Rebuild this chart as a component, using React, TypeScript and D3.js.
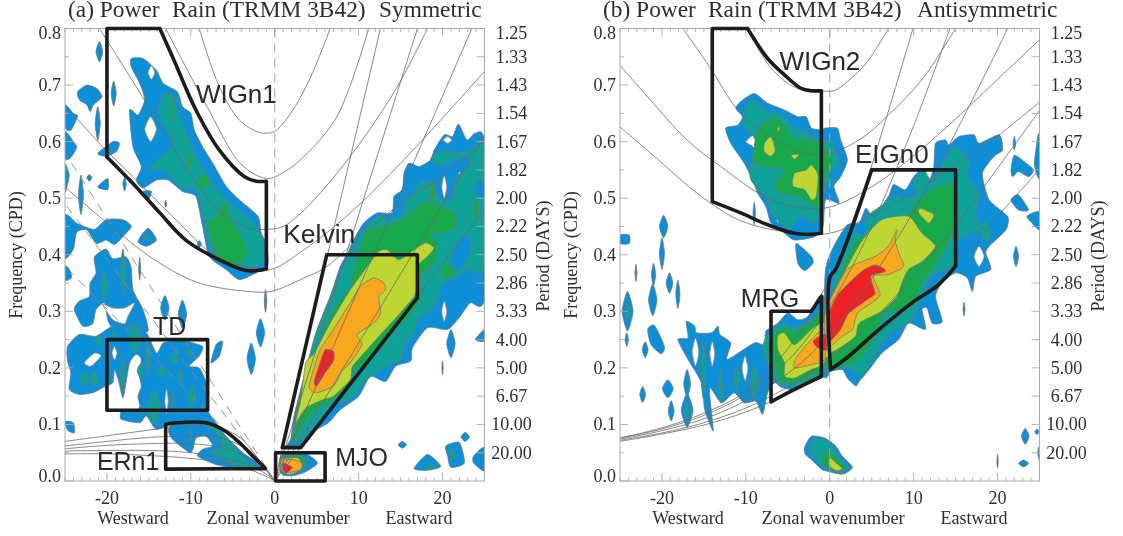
import React from "react";
import * as d3 from "d3";

type P = [number, number];
type Blob = [number, number, number, number, number];

const xTickLabels = [-20, -10, 0, 10, 20];
const freqTicks = [0, 0.1, 0.2, 0.3, 0.4, 0.5, 0.6, 0.7, 0.8];
const freqMinor = [0.05, 0.15, 0.25, 0.35, 0.45, 0.55, 0.65, 0.75];
const periodLabels = ["1.25", "1.33", "1.43", "1.54", "1.67", "1.82", "2.00", "2.22", "2.50", "2.86", "3.33", "4.00", "5.00", "6.67", "10.00", "20.00"];
const periodFreqs = [0.8, 0.75, 0.7, 0.65, 0.6, 0.55, 0.5, 0.45, 0.4, 0.35, 0.3, 0.25, 0.2, 0.15, 0.1, 0.05];

// ---------- Panel (a) contours ----------
const aWigBlue: P[] = [[-17.1,.747],[-15.7,.747],[-14.1,.726],[-13.3,.703],[-11.6,.688],[-11,.662],[-10,.65],[-9.6,.621],[-8.6,.591],[-7.4,.562],[-5.8,.521],[-4.2,.497],[-2,.468],[-1.6,.438],[-1,.42],[-.8,.385],[-2,.37],[-4.2,.356],[-5.8,.374],[-7.8,.397],[-8.6,.45],[-9.4,.503],[-11,.512],[-12.7,.532],[-14.1,.532],[-15.7,.518],[-16.5,.532],[-15.9,.556],[-16.9,.591],[-17.3,.656],[-16.3,.647],[-15.5,.674],[-16.1,.703],[-17.1,.732]];
const aWigTeal: P[] = [[-13.3,.682],[-12.1,.682],[-11.6,.65],[-10.8,.626],[-9.4,.574],[-8.2,.544],[-6.2,.503],[-3.4,.468],[-2.2,.45],[-1.4,.426],[-1.2,.391],[-2.2,.379],[-4.2,.379],[-7,.391],[-8,.426],[-8.6,.474],[-9.4,.515],[-11.4,.521],[-13,.55],[-15,.553],[-12.6,.585],[-12.2,.603],[-13.8,.65]];
const aWigGreen: P[] = [[-6,.497],[-5.4,.468],[-4.2,.438],[-3.2,.403],[-5,.379],[-7,.403],[-8,.456],[-6.8,.468]];
const aLeft1: P[] = [[-23.5,.688],[-22.4,.7],[-21.2,.694],[-20.6,.679],[-21.6,.665],[-22,.653],[-22.4,.665],[-23.3,.674]];
const aLeft2: P[] = [[-25,.665],[-24,.65],[-23.5,.645],[-24.3,.62],[-25,.625]];
const aLeft3: P[] = [[-25,.618],[-24,.6],[-23.6,.59],[-24.3,.572],[-25,.57]];
const aLeft4: P[] = [[-21.1,.579],[-19.3,.6],[-18.5,.597],[-18.9,.582],[-20.1,.574]];
const aLeft5: P[] = [[-25,.56],[-24.5,.54],[-25,.51]];
const aLeft6: P[] = [[-21.1,.52],[-19.9,.535],[-19.9,.515]];
const aLeft7: P[] = [[-15.7,.512],[-14.7,.512],[-15.1,.497]];
const aLeft8: P[] = [[-16.3,.424],[-15.1,.447],[-14.1,.426],[-15.3,.415]];
const aBand: P[] = [[-25,.47],[-23.5,.455],[-21.5,.445],[-20.1,.462],[-18.1,.462],[-17.1,.45],[-18.1,.432],[-19.1,.418],[-20.1,.426],[-21.3,.42],[-22.4,.444],[-23.6,.44],[-24,.41],[-25,.395]];
const aUpper: P[] = [[-23.9,.303],[-23.3,.318],[-22.1,.326],[-22,.35],[-21.3,.368],[-21.5,.396],[-20.1,.41],[-19.3,.393],[-17.7,.396],[-17.1,.376],[-16.9,.338],[-15.7,.303],[-15.1,.265],[-17.1,.265],[-19.3,.271],[-19.9,.285],[-20.3,.315],[-21.3,.303],[-21.7,.278],[-22.9,.274]];
const aUpperHole: P[] = [[-20.5,.312],[-19.3,.306],[-17.9,.306],[-16.7,.315],[-17.5,.291],[-17.9,.278],[-19.3,.285]];
const aTd: P[] = [[-24.7,.238],[-23.3,.259],[-21.3,.256],[-19.3,.274],[-17.1,.271],[-15.3,.262],[-14.1,.226],[-13.3,.244],[-11.8,.247],[-10.6,.247],[-8.6,.238],[-9,.221],[-10.2,.203],[-9,.2],[-8.2,.174],[-8,.126],[-7,.103],[-5.8,.079],[-3.8,.05],[-1.4,.024],[-4.2,.021],[-7,.029],[-9.2,.044],[-8.6,.056],[-7.4,.062],[-8.2,.079],[-9.4,.076],[-10,.05],[-12.2,.074],[-12.7,.091],[-12.2,.103],[-14.1,.091],[-15.3,.115],[-16.1,.103],[-18.3,.109],[-18.2,.124],[-16.1,.126],[-16.3,.15],[-15.9,.168],[-16.2,.191],[-15.9,.215],[-16.5,.224],[-17.3,.209],[-17.7,.176],[-18.1,.147],[-18.6,.176],[-19.1,.197],[-19.3,.174],[-20.5,.165],[-21.7,.156],[-23.3,.153],[-24.5,.162],[-24.3,.191],[-24.7,.212]];
const aTdHole: P[] = [[-22.7,.209],[-21.5,.226],[-20.7,.221],[-21.9,.203]];
const aEdge1: P[] = [[-25,.38],[-24.5,.375],[-24.2,.36],[-25,.355]];
const aEdge2: P[] = [[-25,.105],[-24,.103],[-23.9,.085],[-24.7,.09]];
const aNear: P[] = [[-7.6,.209],[-7,.241],[-6.2,.247],[-6.6,.221]];
const aErTeal: P[] = [[-8.6,.1],[-7.4,.097],[-6.2,.085],[-5,.062],[-3.2,.032],[-2.2,.024],[-4.2,.026],[-6.6,.041],[-7.6,.053],[-6.2,.059],[-6.6,.074],[-7.4,.091]];
const aKelvinBlue: P[] = [[25,.597],[23.9,.615],[22.9,.603],[21.9,.631],[21.2,.609],[20.2,.612],[19,.585],[18.6,.568],[17.2,.556],[16,.562],[15.4,.544],[15.2,.515],[14.2,.503],[14,.474],[12.2,.474],[10.6,.456],[9.4,.426],[8.6,.4],[7.8,.379],[6.6,.326],[4.9,.262],[3.5,.185],[2.3,.115],[1.9,.074],[1.3,.059],[3.1,.059],[4.7,.088],[6.4,.103],[7.8,.126],[10,.15],[11.4,.185],[13.2,.176],[14.4,.203],[16.2,.212],[16.4,.235],[18.2,.271],[20.6,.268],[22.1,.291],[23.3,.315],[25,.324]];
const aKelvinTeal: P[] = [[25,.594],[22.9,.581],[19.4,.582],[18.6,.568],[19.8,.559],[22.7,.574],[23.3,.556],[21.7,.538],[21,.497],[19.4,.503],[19,.526],[17.4,.529],[16.6,.509],[15.4,.497],[15.4,.474],[13.8,.462],[12.6,.468],[11.2,.456],[10,.429],[8.8,.397],[7,.338],[5.4,.279],[3.9,.203],[2.7,.132],[2.1,.079],[2.1,.065],[3.3,.071],[4.7,.097],[5.4,.103],[7.4,.138],[9,.144],[10.6,.174],[12.6,.197],[15,.215],[15.4,.238],[16.6,.262],[17,.285],[18.6,.303],[19.4,.321],[20,.35],[21.7,.362],[22.9,.374],[25,.379]];
const aKelvinPatch1: P[] = [[25,.53],[24,.53],[23.9,.51],[24.6,.5],[25,.505]];
const aKelvinPatch2: P[] = [[21.2,.403],[22.5,.438],[23.5,.415],[22.2,.374],[21,.379]];
const aKelvinGreen: P[] = [[12.6,.45],[15.2,.462],[18,.494],[19.8,.485],[21.4,.474],[21.6,.45],[20,.438],[18.6,.438],[19.4,.415],[19,.385],[17.4,.362],[17.4,.324],[16,.291],[14.2,.268],[13.2,.244],[11.4,.215],[9.4,.197],[9,.174],[7,.144],[5.4,.132],[3.5,.103],[2.3,.074],[2.9,.144],[4.3,.203],[7,.303],[9.2,.344],[9.2,.362],[10.8,.438]];
const aKelvinYellow: P[] = [[12.4,.406],[13.4,.409],[14.8,.391],[16.6,.409],[18,.421],[19,.412],[18.2,.397],[17,.379],[17,.35],[16.6,.326],[14.6,.291],[13,.265],[9.8,.212],[9.2,.2],[9,.179],[7,.15],[5.8,.144],[3.7,.129],[2.5,.103],[3.1,.144],[3.7,.209],[4.7,.226],[6.6,.279],[9,.338],[11,.379]];
const aKelvinOrange: P[] = [[11.8,.359],[13,.35],[13.2,.338],[12.4,.326],[12.6,.297],[11.8,.279],[9.8,.259],[10.4,.241],[9,.209],[8,.194],[7,.168],[5,.156],[4.1,.165],[4.5,.191],[5.4,.232],[7,.268],[9,.315],[10.2,.344]];
const aKelvinRed: P[] = [[6,.232],[7,.229],[7,.212],[6,.191],[5,.168],[4.7,.176],[5.4,.209]];
const aMjoBlue: P[] = [[.7,.044],[1.9,.05],[3.5,.05],[5.1,.032],[3.5,.015],[1.9,.009],[.7,.015]];
const aMjoTeal: P[] = [[.7,.041],[3,.047],[4,.033],[3,.018],[1,.01]];
const aMjoGreen: P[] = [[.7,.038],[2.9,.044],[3.6,.032],[2.9,.018],[1.3,.012]];
const aMjoYellow: P[] = [[.7,.038],[2.7,.041],[3.3,.026],[2.5,.015],[1.5,.012],[.7,.021]];
const aMjoOrange: P[] = [[.7,.035],[2.1,.038],[3.2,.032],[3.1,.02],[1.5,.015],[.9,.021]];
const aMjoRed: P[] = [[1,.032],[2.1,.024],[1.3,.014],[.9,.026]];
const aEast1: P[] = [[16.6,.022],[18.2,.047],[19.8,.026],[18.2,.019]];
const aEast1Teal: P[] = [[18,.026],[18.5,.031],[19.2,.024],[18.4,.021]];
const aEast2: P[] = [[20.4,.062],[22,.068],[22.6,.032],[21,.024],[20.6,.044]];
const aEast3: P[] = [[23.7,.044],[24.9,.059],[25,.018],[23.7,.032]];
const aEast4: P[] = [[23.9,.25],[25,.268],[25,.247]];

const aBlobs: Blob[] = [
  [1,-20.9,.759,.4,.018],[1,-19.2,.685,.3,.022],[1,-21.1,.632,.3,.03],[1,-23.1,.506,.3,.035],[1,-22.1,.536,.3,.006],[1,-17.9,.525,.2,.012],[1,-9,.419,.25,.006],[1,-13,.49,.12,.006],
  [1,-13.1,.306,.5,.022],[1,-11,.295,.5,.025],[1,-1.1,.318,.15,.02],[1,-1.7,.262,.5,.025],[1,-2.8,.216,.5,.028],[1,-16.1,.375,.12,.02],
  [1,15.2,.064,.5,.006],[1,22.7,.078,.5,.008],[1,21,.243,.5,.025],[1,20,.2,.08,.012],
  [0,-19.1,.226,.3,.012],[0,-12.9,.141,.2,.022],[0,-14.8,.622,.7,.022],[0,-14.7,.722,.4,.012],[0,20.2,.52,.3,.02],[0,20.6,.603,.5,.006],[0,20.2,.3,.3,.018],[0,22,.544,.12,.003],
  [2,-14.4,.13,.8,.03],[2,-22.7,.18,.6,.012],[2,-21.5,.18,.5,.012],[2,-18.1,.187,.3,.03],[2,-15.1,.217,.25,.03],[2,-16,.195,.4,.012],[2,-13.5,.193,.7,.008],[2,-11.9,.217,.45,.012],[2,-10.2,.228,.3,.008],[2,-11.2,.185,.25,.012],[2,-9.9,.15,.5,.018],[2,-16.7,.253,.7,.025],[2,-21,.248,.4,.01],[2,-19.1,.258,.2,.01],[2,-20.3,.344,.4,.025],[2,-18.1,.37,.3,.04],[2,-12.1,.141,.12,.018],[2,-16,.125,.3,.008],[2,-10,.08,.1,.012],[2,-15.3,.43,.3,.006],[2,21.2,.047,.3,.012],
  [3,-8.5,.53,.7,.012],[3,-10.2,.566,.3,.012],[3,-12.2,.656,.15,.022],[3,18.8,.509,.3,.022],[3,24,.479,.3,.02],[3,20.6,.37,.9,.015],
];

// ---------- Panel (b) contours ----------
const bWigBlue: P[] = [[-10.6,.671],[-9,.685],[-7.4,.668],[-5.4,.656],[-3.8,.644],[-2.8,.644],[-2.2,.624],[-1,.621],[-.5,.624],[.9,.624],[1.3,.603],[2.1,.568],[1.3,.538],[.5,.521],[1.1,.491],[-.5,.497],[-.8,.45],[-1.8,.432],[-4.2,.426],[-5.4,.438],[-7,.456],[-7.6,.485],[-8.6,.509],[-9.2,.532],[-10.2,.562],[-11.8,.597],[-12.4,.624],[-11,.629],[-10.4,.644],[-11.2,.659]];
const bWigHole: P[] = [[-10,.6],[-9,.612],[-8.8,.588],[-9.4,.594]];
const bWigTail: P[] = [[-4,.42],[-2.2,.397],[-2,.385],[-3,.372],[-3.8,.385]];
const bWigTeal: P[] = [[-10.2,.656],[-9.2,.674],[-7.8,.656],[-6,.647],[-5.4,.644],[-4.8,.632],[-3.8,.621],[-2.6,.615],[-1.4,.603],[.2,.6],[.3,.597],[1.1,.562],[.1,.544],[.3,.532],[-.5,.521],[-1,.485],[-1.8,.456],[-3.4,.468],[-5,.444],[-5.8,.456],[-7,.474],[-7.4,.497],[-9.4,.532],[-9.4,.562],[-8.2,.585],[-9.4,.615],[-10.2,.626]];
const bWigGreen: P[] = [[-8.6,.618],[-6.6,.644],[-5.2,.624],[-4.2,.606],[-1.4,.6],[.2,.574],[-.1,.55],[-.5,.544],[-1,.497],[-1.8,.485],[-3.8,.503],[-5.8,.509],[-6.6,.521],[-5.4,.55],[-8.6,.559],[-9.2,.568],[-9,.591]];
const bWigY1: P[] = [[-7.8,.597],[-7,.609],[-6.5,.585],[-7,.574],[-7.8,.582]];
const bWigY2: P[] = [[-4.6,.576],[-3.6,.578],[-4.2,.569]];
const bWigY3: P[] = [[-4.2,.544],[-2.8,.55],[-2.2,.559],[-1.4,.541],[-1.6,.503],[-2.2,.497],[-3,.515],[-4.4,.521]];
const bSquare: P[] = [[-25,.435],[-23.9,.435],[-23.9,.42],[-25,.42]];
const bLeft1: P[] = [[-21.7,.268],[-20.9,.275],[-19.7,.238],[-20.1,.225],[-21.3,.241]];
const bMrgBlue: P[] = [[-17.1,.282],[-16.1,.274],[-15.9,.262],[-14.1,.262],[-13.3,.274],[-13.1,.259],[-11.8,.244],[-12.2,.215],[-9,.244],[-7.8,.241],[-7.6,.265],[-6.2,.279],[-5,.297],[-3.8,.285],[-2.6,.291],[-1.4,.324],[-.8,.329],[-.4,.3],[-.4,.19],[-1,.182],[-4.2,.162],[-5.8,.166],[-6.6,.174],[-7.4,.156],[-8,.118],[-8.8,.141],[-10.2,.138],[-11.4,.156],[-12.9,.138],[-14.3,.165],[-14.1,.121],[-13.9,.088],[-14.9,.126],[-15.3,.174],[-16.9,.215],[-18.1,.25],[-16.9,.253]];
const bMrgTeal: P[] = [[-7,.268],[-5.4,.279],[-4.2,.271],[-2.2,.285],[-1.4,.297],[-.8,.315],[-.4,.3],[-1.4,.185],[-4.2,.168],[-6.2,.174],[-7.4,.209],[-8,.238]];
const bMrgGreen: P[] = [[-6.8,.256],[-5.4,.271],[-4.2,.265],[-2.2,.279],[-1,.297],[-.6,.203],[-2.2,.185],[-4.2,.174],[-5.8,.176],[-6.8,.209],[-7.4,.238]];
const bMrgYellow: P[] = [[-6.2,.256],[-5.4,.262],[-4.2,.241],[-2.2,.268],[-.6,.279],[-.6,.209],[-2.2,.197],[-4.2,.182],[-5.4,.185],[-5.4,.209],[-6.2,.232]];
const bMrgOrange: P[] = [[-4,.218],[-2.2,.25],[-.6,.268],[-.6,.215],[-2.2,.206],[-4.2,.2]];
const bMrgRed: P[] = [[-2,.247],[-1.2,.256],[-.4,.259],[-.4,.232],[-1.4,.235]];
const bEigBlue: P[] = [[-.5,.374],[1.9,.45],[3.5,.456],[4.3,.482],[5.2,.468],[7,.503],[7.6,.524],[9,.515],[10,.538],[11,.55],[11.8,.529],[12.4,.556],[12.6,.597],[13.8,.603],[14.2,.594],[15.4,.609],[17.2,.612],[17.8,.597],[20.2,.612],[20.6,.585],[19.6,.574],[18.2,.544],[19,.497],[21.2,.468],[21,.444],[19,.415],[18.6,.403],[19.2,.374],[17.4,.362],[17,.335],[16.4,.359],[15,.368],[13.4,.35],[12.6,.326],[13.4,.282],[12.2,.279],[11.6,.306],[11,.303],[11.4,.268],[9.4,.279],[8.2,.25],[6.2,.226],[4.7,.197],[3.5,.176],[3.1,.168],[2.1,.182],[1.5,.197],[.1,.194],[-.5,.19]];
const bEigTeal: P[] = [[.7,.374],[2.9,.438],[4.1,.432],[4.5,.468],[6.6,.491],[7.6,.503],[10.2,.503],[10,.529],[11.2,.55],[12.2,.532],[14.2,.579],[15,.591],[16.6,.568],[16.4,.538],[17.8,.509],[17.4,.474],[18.2,.444],[16.6,.438],[15,.421],[14.8,.379],[12.6,.368],[11.4,.344],[10,.288],[9,.276],[7.4,.265],[6.2,.241],[3.9,.188],[2.3,.2],[.1,.197],[-.5,.2]];
const bEigGreen: P[] = [[1.5,.374],[3.3,.426],[5.4,.444],[9,.468],[10.6,.497],[13.4,.524],[14.8,.521],[15.2,.485],[14.8,.444],[13.2,.397],[12.2,.374],[11,.35],[9.8,.309],[6.6,.297],[5.4,.256],[3.9,.221],[2.3,.206],[.1,.203],[-.5,.205]];
const bEigYellow: P[] = [[1.9,.374],[3.9,.426],[6.2,.462],[9.4,.468],[11,.438],[12.6,.415],[11,.388],[9.4,.374],[8.6,.35],[8,.326],[6.2,.3],[3.5,.279],[3.1,.256],[1.5,.238],[.1,.226],[-.5,.22],[-.5,.3]];
const bEigPatch: P[] = [[10.6,.474],[10.8,.482],[12.4,.471],[11.8,.456]];
const bEigOrange: P[] = [[2.1,.374],[5.4,.397],[7,.415],[8,.444],[7.8,.424],[8.4,.397],[8.8,.379],[7,.365],[5.2,.362],[6,.329],[4.7,.312],[3.3,.297],[2.7,.268],[1.5,.256],[.1,.238],[-.5,.235],[-.5,.3]];
const bEigRed: P[] = [[-.3,.29],[1,.33],[2.7,.356],[4.1,.374],[5.4,.382],[6.4,.376],[6.6,.37],[4.9,.362],[5.4,.332],[4.5,.321],[2.3,.297],[1.3,.268],[.1,.247],[-.3,.24]];
const bLobe1: P[] = [[21.6,.497],[22.5,.506],[23.7,.479],[22.5,.479]];
const bLobe2: P[] = [[23.5,.468],[24.9,.476],[25,.444],[24.1,.456]];
const bLobe3: P[] = [[21.6,.55],[22,.576],[23.4,.562],[24.3,.55],[23.7,.538],[22.5,.547],[21.8,.538]];
const bLobe4: P[] = [[24.9,.615],[25,.535],[24.4,.56]];
const bEdgeE: P[] = [[24.9,.06],[25,.035],[24.8,.048]];
const bMjoBlue: P[] = [[-3,.059],[-2.2,.079],[-.6,.076],[.7,.062],[1.5,.044],[2.7,.024],[1.5,.012],[-.5,.018],[-1,.021],[-2.2,.038],[-2.9,.047]];
const bMjoTeal: P[] = [[-2.4,.065],[-1.5,.074],[-.5,.072],[.5,.058],[1.3,.04],[2.3,.023],[1.3,.014],[-.5,.022],[-1.5,.035],[-2.2,.05]];
const bMjoGreen: P[] = [[-.5,.053],[.2,.05],[1,.035],[1.9,.023],[1,.016],[-.3,.024],[-1,.035]];
const bMjoYellow: P[] = [[0,.042],[.6,.034],[1.5,.022],[.8,.018],[-.1,.028]];

const bBlobs: Blob[] = [
  [1,-9,.473,.15,.02],[1,-19.8,.45,.5,.02],[1,-20,.402,.3,.028],[1,-23.1,.368,.12,.015],[1,-21,.365,.25,.02],[1,-19.1,.35,.4,.018],[1,-18.1,.33,.25,.025],[1,-21.1,.32,.5,.028],[1,-24.1,.3,.65,.035],[1,-24.2,.25,.2,.012],[1,-22,.232,.35,.014],[1,-22.3,.153,.35,.014],[1,-19.3,.163,.65,.016],[1,-17,.172,.4,.025],[1,-18.9,.124,.35,.018],[1,-17,.125,.7,.03],
  [1,22.2,.397,.3,.018],[1,22,.597,.15,.012],[1,16,.304,.12,.012],[1,23.3,.079,.45,.014],[1,24.7,.087,.25,.005],[1,23.1,.031,.6,.006],[1,20,.035,.08,.012],
  [0,-16,.228,.4,.025],[0,-14,.225,.3,.022],[0,-10.1,.199,.35,.022],[0,-6.2,.476,.25,.02],[0,17.8,.397,.6,.018],
  [2,-24.1,.3,.25,.015],[2,-17,.125,.3,.015],[2,-15.1,.197,.3,.05],[2,-13,.168,.25,.03],[2,-11.1,.182,.35,.022],[2,-9,.174,.5,.03],[2,18.6,.44,.6,.018],
  [5,-6.1,.622,.15,.005],
];

// ---------- dispersion curves ----------
const aWig90: P[] = [[-9,.8],[-6.6,.697],[-4.2,.638],[-2,.617],[-1,.615],[0,.618],[1.9,.65],[4.3,.715],[6.6,.8]];
const aWig50: P[] = [[-13,.8],[-8,.66],[-4,.56],[-1,.535],[1,.545],[3.5,.574],[7.4,.644],[11.2,.8]];
const aWig25: P[] = [[-20.9,.8],[-18.5,.744],[-15.3,.668],[-12.2,.591],[-9,.52],[-6,.47],[-3,.447],[-1,.445],[1,.45],[3.5,.479],[9,.574],[14.6,.697],[18.2,.8]];
const aWig12: P[] = [[-25,.665],[-20.9,.597],[-16.9,.538],[-12.2,.468],[-7,.397],[-3.4,.379],[-.5,.374],[3.5,.409],[9,.474],[15.4,.568],[25,.724]];
const aWig8: P[] = [[-25,.52],[-19,.444],[-13.7,.385],[-9,.35],[-3,.335],[-.5,.335],[3.5,.359],[6.2,.379],[10,.43],[15,.49],[20,.54],[25,.6]];
const aKelvinSlopes: P[] = [[12.6,.8],[17,.8],[23.5,.8],[25,.61],[25,.48]];
const aEr1: P[] = [[-25,.07],[-20,.08],[-15,.09],[-10,.1],[-7,.097],[-4,.075],[-2,.04],[-.5,.012],[0,0]];
const aEr2: P[] = [[-25,.062],[-20,.07],[-15,.077],[-10,.08],[-7,.078],[-4,.062],[-2,.036],[-.5,.01],[0,0]];
const aEr3: P[] = [[-25,.057],[-20,.063],[-15,.066],[-10,.066],[-6,.058],[-3,.04],[-1,.018],[0,0]];
const aEr4: P[] = [[-25,.053],[-20,.054],[-15,.054],[-10,.05],[-6,.04],[-3,.028],[-1,.012],[0,0]];
const aEr5: P[] = [[-25,.048],[-20,.048],[-15,.045],[-10,.04],[-6,.032],[-3,.02],[-1,.008],[0,0]];
const aDashEnds: P[] = [[-25,.38],[-25,.49],[-25,.58]];

const bWig50: P[] = [[-9.8,.8],[-7,.73],[-4,.695],[-1,.69],[.5,.69],[2,.705],[4.3,.738],[7,.8]];
const bWig25: P[] = [[-17.5,.8],[-14.3,.732],[-10.6,.65],[-5,.591],[-1,.576],[3.5,.603],[7,.647],[11,.71],[15,.8]];
const bWig12: P[] = [[-25,.735],[-21.7,.679],[-17,.603],[-13,.556],[-7,.497],[-2.6,.482],[.2,.485],[5,.52],[10,.575],[15,.64],[20,.71],[25,.78]];
const bWig8: P[] = [[-25,.626],[-20.9,.574],[-15.3,.503],[-10.6,.46],[-5,.44],[0,.438],[5,.47],[10,.51],[15,.56],[20,.61],[25,.67]];
const bMrg90: P[] = [[-25,.076],[-20,.094],[-15,.12],[-10,.158],[-5,.234],[-2.5,.289],[0,.36],[2.5,.451],[5,.558],[10,.804]];
const bMrg50: P[] = [[-25,.076],[-20,.092],[-15,.116],[-10,.153],[-5,.213],[-2.5,.256],[0,.309],[2.5,.374],[5,.45],[10,.628],[15,.828]];
const bMrg25: P[] = [[-25,.074],[-20,.089],[-15,.11],[-10,.142],[-5,.19],[-2.5,.221],[0,.26],[2.5,.307],[5,.358],[10,.477],[15,.616],[20,.763],[21.2,.8]];
const bMrg12: P[] = [[-25,.072],[-20,.085],[-15,.103],[-10,.129],[-5,.166],[-2.5,.19],[0,.216],[2.5,.248],[5,.282],[10,.363],[15,.452],[20,.553],[25,.655]];
const bMrg8: P[] = [[-25,.07],[-20,.083],[-15,.099],[-10,.122],[-5,.154],[-2.5,.173],[0,.197],[2.5,.221],[5,.25],[10,.315],[15,.388],[20,.468],[25,.551]];

// ---------- analysis boxes (each side is one open piece) ----------
const boxWIGn1: P[][] = [[[-20,.8],[-13.7,.8]],[[-13.7,.8],[-12.1,.747],[-9.4,.656],[-6.6,.585],[-3.6,.538],[-2.2,.53],[-1,.53]],[[-1,.53],[-1,.375]],[[-1,.375],[-3.4,.372],[-6.6,.391],[-10.6,.426],[-13.7,.474],[-16.9,.526],[-20,.573]],[[-20,.573],[-20,.8]]];
const boxTD: P[][] = [[[-20,.25],[-8,.25]],[[-8,.25],[-8,.125]],[[-8,.125],[-20,.125]],[[-20,.125],[-20,.25]]];
const boxERn1: P[][] = [[[-1.1,.022],[-13,.021]],[[-13,.021],[-13,.1]],[[-13,.1],[-11.7,.103],[-8.2,.103],[-6.2,.091],[-4.2,.068],[-2.6,.044],[-1.1,.022]]];
const boxKelvin: P[][] = [[[6.2,.4],[17,.4]],[[17,.4],[17,.324]],[[17,.324],[3.1,.059]],[[3.1,.059],[.9,.059]],[[.9,.059],[6.2,.4]]];
const boxMJO: P[][] = [[[.1,.05],[6,.05]],[[6,.05],[6,0]],[[6,0],[.1,0]],[[.1,0],[.1,.05]]];
const boxWIGn2: P[][] = [[[-14,.8],[-9.8,.8]],[[-9.8,.8],[-7.4,.747],[-5.4,.718],[-3.4,.694],[-2.2,.69],[-1,.69]],[[-1,.69],[-1,.438]],[[-1,.438],[-2.2,.436],[-4.2,.438],[-7.4,.453],[-10.6,.474],[-14,.494]],[[-14,.494],[-14,.8]]];
const boxEIGn0: P[][] = [[[5,.55],[15,.55]],[[15,.55],[15,.38]],[[15,.38],[12.8,.345],[9.8,.315],[5.4,.262],[2.3,.221],[.1,.197]],[[.1,.197],[0,.36],[.7,.374],[5,.55]]];
const boxMRG: P[][] = [[[-7,.3],[-2.2,.3]],[[-2.2,.3],[-1,.326]],[[-1,.326],[-1,.185]],[[-1,.185],[-4.2,.162],[-7,.14]],[[-7,.14],[-7,.3]]];

const levelColor: Record<number, string> = { 0: "#ffffff", 1: "#0b8fd8", 2: "#09a198", 3: "#12a84c", 4: "#bdd630", 5: "#f9a71c", 6: "#ec2227" };

const contoursA: [number, P[]][] = [
  [1,aWigBlue],[1,aLeft1],[1,aLeft2],[1,aLeft3],[1,aLeft4],[1,aLeft5],[1,aLeft6],[1,aLeft7],[1,aLeft8],[1,aBand],[1,aUpper],[1,aTd],[1,aEdge1],[1,aEdge2],[1,aNear],[1,aKelvinBlue],[1,aMjoBlue],[1,aEast1],[1,aEast2],[1,aEast3],[1,aEast4],
  [0,aUpperHole],[0,aTdHole],
  [2,aWigTeal],[2,aErTeal],[2,aKelvinTeal],[2,aMjoTeal],[2,aEast1Teal],
  [3,aWigGreen],[3,aKelvinGreen],[3,aMjoGreen],
  [4,aKelvinYellow],[4,aMjoYellow],[5,aKelvinOrange],[5,aMjoOrange],[6,aKelvinRed],[6,aMjoRed],
];
const contoursAOver: [number, P[]][] = [[1,aKelvinPatch1],[1,aKelvinPatch2]];
const contoursB: [number, P[]][] = [
  [1,bWigBlue],[1,bWigTail],[1,bSquare],[1,bLeft1],[1,bMrgBlue],[1,bEigBlue],[1,bLobe1],[1,bLobe2],[1,bLobe3],[1,bLobe4],[1,bEdgeE],[1,bMjoBlue],
  [0,bWigHole],
  [2,bWigTeal],[2,bMrgTeal],[2,bEigTeal],[2,bMjoTeal],
  [3,bWigGreen],[3,bMrgGreen],[3,bEigGreen],[3,bMjoGreen],
  [4,bWigY1],[4,bWigY2],[4,bWigY3],[4,bMrgYellow],[4,bEigYellow],[4,bEigPatch],[4,bMjoYellow],
  [5,bMrgOrange],[5,bEigOrange],[6,bMrgRed],[6,bEigRed],
];

const xMinorTicks = d3.range(-25, 26);
const yScale = d3.scaleLinear().domain([0, 0.8]).range([481, 28.5]);

const SERIF = "'Liberation Serif', serif";
const SANS = "'Liberation Sans', sans-serif";
const INK = "#2e2e2e";
const AXIS = "#a7abb0";

function blobToPoly(b: Blob): P[] {
  const [, k, f, rk, rf] = b;
  return [[k - rk, f], [k, f + rf], [k + rk, f], [k, f - rf]];
}

interface PanelProps {
  id: string; x0: number; title: [string, string]; titleX: [number, number, number];
  contours: [number, P[]][]; over: [number, P[]][]; blobs: Blob[]; curves: P[][]; boxes: P[][][];
  dashed: P[]; rays: P[];
  labels: [string, number, number, number][];
}

function Panel(p: PanelProps) {
  const xScale = d3.scaleLinear().domain([-25, 25]).range([p.x0, p.x0 + 419.5]);
  const px = (d: P) => xScale(d[0]);
  const py = (d: P) => yScale(d[1]);
  const closed = d3.line<P>().x(px).y(py).curve(d3.curveCardinalClosed.tension(0.35));
  const open = d3.line<P>().x(px).y(py).curve(d3.curveCatmullRom.alpha(0.5));
  const order = [1, 0, 2, 3, 4, 5, 6];
  const blobShapes: [number, P[]][] = p.blobs.map((b) => [b[0], blobToPoly(b)]);
  const merged: [number, P[]][] = [...p.contours, ...blobShapes];
  const sorted = [...order.flatMap((lv) => merged.filter((c) => c[0] === lv))];
  const lastTeal = sorted.filter((c) => c[0] <= 2).length;
  sorted.splice(lastTeal, 0, ...p.over);
  const x1 = xScale(25), x0 = xScale(-25);
  const clip = `clip-${p.id}`;
  return (
    <g>
      <defs><clipPath id={clip}><rect x={x0} y={yScale(0.8)} width={x1 - x0} height={yScale(0) - yScale(0.8)} /></clipPath></defs>
      <text fontFamily={SERIF} fontSize={23.4} fill={INK} x={p.x0 + p.titleX[0]} y={17}>{p.title[0]}</text>
      <text fontFamily={SERIF} fontSize={23.4} fill={INK} x={p.x0 + p.titleX[1]} y={17}>Rain (TRMM 3B42)</text>
      <text fontFamily={SERIF} fontSize={23.4} fill={INK} x={p.x0 + p.titleX[2]} y={17}>{p.title[1]}</text>
      <g clipPath={`url(#${clip})`}>
        {sorted.map((c, i) => (
          <path key={i} d={closed(c[1]) ?? ""} fill={levelColor[c[0]]} stroke={c[0] === 0 ? "#888" : "#6d7b7d"} strokeWidth={0.8} />
        ))}
        {p.curves.map((c, i) => <path key={i} d={open(c) ?? ""} fill="none" stroke="#6b6b6b" strokeWidth={0.8} />)}
        {p.rays.map((e, i) => <line key={i} x1={xScale(0)} y1={yScale(0)} x2={xScale(e[0])} y2={yScale(e[1])} stroke="#6b6b6b" strokeWidth={0.8} />)}
        {p.dashed.map((e, i) => <line key={i} x1={xScale(0)} y1={yScale(0)} x2={xScale(e[0])} y2={yScale(e[1])} stroke="#8a8a8a" strokeWidth={0.9} strokeDasharray="9 7" />)}
        <line x1={xScale(0)} x2={xScale(0)} y1={yScale(0.8)} y2={yScale(0)} stroke="#a0a0a0" strokeWidth={1} strokeDasharray="9 6" />
      </g>
      <rect x={x0} y={yScale(0.8)} width={x1 - x0} height={yScale(0) - yScale(0.8)} fill="none" stroke={AXIS} strokeWidth={1} />
      {xMinorTicks.map((k) => {
        const major = k % 10 === 0;
        const len = major ? 8 : 3.5;
        return (
          <g key={k} stroke={AXIS} strokeWidth={0.9}>
            <line x1={xScale(k)} x2={xScale(k)} y1={yScale(0)} y2={yScale(0) - len} />
            <line x1={xScale(k)} x2={xScale(k)} y1={yScale(0.8)} y2={yScale(0.8) + len} />
          </g>
        );
      })}
      {freqTicks.map((f) => <line key={f} x1={x0} x2={x0 + 8} y1={yScale(f)} y2={yScale(f)} stroke={AXIS} strokeWidth={0.9} />)}
      {freqMinor.map((f) => <line key={f} x1={x0} x2={x0 + 4} y1={yScale(f)} y2={yScale(f)} stroke={AXIS} strokeWidth={0.9} />)}
      {periodFreqs.map((f) => <line key={f} x1={x1} x2={x1 - 8} y1={yScale(f)} y2={yScale(f)} stroke={AXIS} strokeWidth={0.9} />)}
      {p.boxes.map((b, i) => (
        <path key={i} d={b.map((side) => open(side) ?? "").join("")} fill="none" stroke="#1c1c1c" strokeWidth={3.6} strokeLinejoin="round" strokeLinecap="round" />
      ))}
      {freqTicks.map((f) => {
        const off = f === 0 ? -5 : f === 0.8 ? 5 : 0;
        return <text key={f} fontFamily={SERIF} fontSize={18} fill={INK} x={x0 - 4} y={yScale(f) + off} dy="0.33em" textAnchor="end">{d3.format(".1f")(f)}</text>;
      })}
      {periodLabels.map((l, i) => {
        const off = i === 0 ? 5 : 0;
        return <text key={l} fontFamily={SERIF} fontSize={18} fill={INK} x={x1 + 27} y={yScale(periodFreqs[i]) + off} dy="0.33em" textAnchor="middle">{l}</text>;
      })}
      {xTickLabels.map((k) => <text key={k} fontFamily={SERIF} fontSize={18} fill={INK} x={xScale(k)} y={504} textAnchor="middle">{k}</text>)}
      <text fontFamily={SERIF} fontSize={18} fill={INK} x={xScale(-16.9)} y={524} textAnchor="middle">Westward</text>
      <text fontFamily={SERIF} fontSize={18.5} fill={INK} x={xScale(0.4)} y={524} textAnchor="middle">Zonal wavenumber</text>
      <text fontFamily={SERIF} fontSize={18} fill={INK} x={xScale(17.2)} y={524} textAnchor="middle">Eastward</text>
      <text fontFamily={SERIF} fontSize={18} fill={INK} textAnchor="middle" transform={`translate(${x0 - 43},255) rotate(-90)`}>Frequency (CPD)</text>
      <text fontFamily={SERIF} fontSize={18} fill={INK} textAnchor="middle" transform={`translate(${x1 + 64},256) rotate(-90)`}>Period (DAYS)</text>
      {p.labels.map(([t, k, f, size]) => (
        <text key={t} fontFamily={SANS} fontSize={size} fill="#2a2a2a" x={xScale(k)} y={yScale(f)}>{t}</text>
      ))}
    </g>
  );
}

export default function App() {
  return (
    <svg width={1123} height={536} viewBox="0 0 1123 536" style={{ position: "absolute", left: 0, top: 0, display: "block", background: "#fff" }}>
      <defs>
        <filter id="soft" x="0" y="0" width="100%" height="100%"><feGaussianBlur stdDeviation="0.45" /></filter>
      </defs>
      <g filter="url(#soft)">
        <Panel id="a" x0={65} title={["(a) Power", "Symmetric"]} titleX={[3, 107, 314]}
          contours={contoursA} over={contoursAOver} blobs={aBlobs}
          curves={[aWig90, aWig50, aWig25, aWig12, aWig8, aEr1, aEr2, aEr3, aEr4, aEr5]}
          rays={aKelvinSlopes} dashed={aDashEnds}
          boxes={[boxWIGn1, boxTD, boxERn1, boxKelvin, boxMJO]}
          labels={[["WIGn1", -9.4, .669, 26], ["Kelvin", 1, .421, 26.5], ["TD", -14.5, .259, 25], ["ERn1", -21.2, .019, 25], ["MJO", 7.2, .027, 25]]} />
        <Panel id="b" x0={620} title={["(b) Power", "Antisymmetric"]} titleX={[-17, 88, 297]}
          contours={contoursB} over={[]} blobs={bBlobs}
          curves={[bWig50, bWig25, bWig12, bWig8, bMrg90, bMrg50, bMrg25, bMrg12, bMrg8]}
          rays={[]} dashed={[]}
          boxes={[boxWIGn2, boxEIGn0, boxMRG]}
          labels={[["WIGn2", -6, .727, 26], ["EIGn0", 3, .562, 26], ["MRG", -10.6, .308, 25]]} />
      </g>
    </svg>
  );
}
